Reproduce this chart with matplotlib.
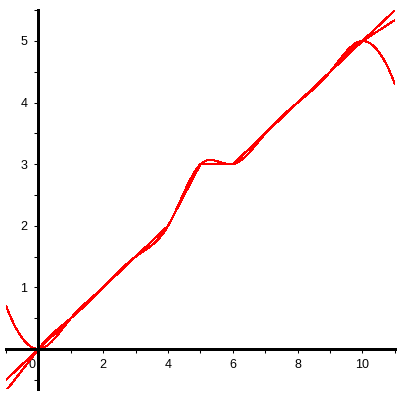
import numpy as np
import matplotlib
matplotlib.use("Agg")
import matplotlib.pyplot as plt
from matplotlib.transforms import ScaledTranslation
from scipy.interpolate import CubicSpline, make_interp_spline

# puntos de datos
x_pts = [0, 1, 2, 3, 4, 5, 6, 7, 8, 9, 10]
y_pts = [0, 0.5, 1, 1.5, 2, 3, 3, 3.5, 4, 4.5, 5]
# pendientes en los extremos de la cuarta curva
pend_izq = 0.68
pend_der = 0.34
# curvatura de la curva de extremos planos fuera de [0,10]
curv_izq = 1.4
curv_der = -1.4

x_ticks = [0, 2, 4, 6, 8, 10]
y_ticks = [1, 2, 3, 4, 5]


def extender(curva, curv=(0, 0)):
    # fuera de [0,10] se sigue con una parabola (o recta si curv=0)
    def f(x):
        x = np.asarray(x, dtype=float)
        y = curva(np.clip(x, x_pts[0], x_pts[-1]))
        for x0, c, m in [(x_pts[0], curv[0], x < x_pts[0]), (x_pts[-1], curv[1], x > x_pts[-1])]:
            d = x[m] - x0
            y[m] = curva(x0) + curva(x0, 1) * d + c * d ** 2 / 2
        return y
    return f


xs = np.linspace(-1, 11, 800)

lineal = make_interp_spline(x_pts, y_pts, k=1)
natural = CubicSpline(x_pts, y_pts, bc_type="natural")
fijo = extender(CubicSpline(x_pts, y_pts, bc_type="clamped"), (curv_izq, curv_der))
otro = extender(CubicSpline(x_pts, y_pts, bc_type=((1, pend_izq), (1, pend_der))))

fig = plt.figure(figsize=(4, 4), dpi=100)
ax = fig.add_axes([6.1 / 400, 11 / 400, 388.8 / 400, 378.8 / 400])

for curva in [lineal, natural, fijo, otro]:
    ax.plot(xs, curva(xs), color="#ff0000", lw=0.75, antialiased=False)

ax.set_xlim(-1, 11)
ax.set_ylim(-0.65, 5.5)

ax.spines["left"].set_position(("data", 0))
ax.spines["bottom"].set_position(("data", 0))
ax.spines["top"].set_visible(False)
ax.spines["right"].set_visible(False)
for s in ["left", "bottom"]:
    ax.spines[s].set_linewidth(0.75)
    ax.spines[s].set_antialiased(False)

ax.set_xticks(x_ticks)
ax.set_xticks(range(-1, 12, 2), minor=True)
ax.set_yticks(y_ticks)
ax.set_yticks(list(np.arange(-0.5, 5.6, 1)), minor=True)
ax.set_xticklabels([str(t) for t in x_ticks])
ax.tick_params(which="both", direction="out", length=3, width=0.75, labelsize=9)
ax.tick_params(axis="x", pad=4)
ax.tick_params(axis="y", pad=5)
for lab in ax.get_xticklabels() + ax.get_yticklabels():
    lab.set_fontfamily("Liberation Sans")
# la etiqueta 0 se corre a la izquierda
ax.get_xticklabels()[0].set_transform(
    ax.get_xticklabels()[0].get_transform() + ScaledTranslation(-5 / 72, 0, fig.dpi_scale_trans))

fig.savefig("out.png", dpi=100)
